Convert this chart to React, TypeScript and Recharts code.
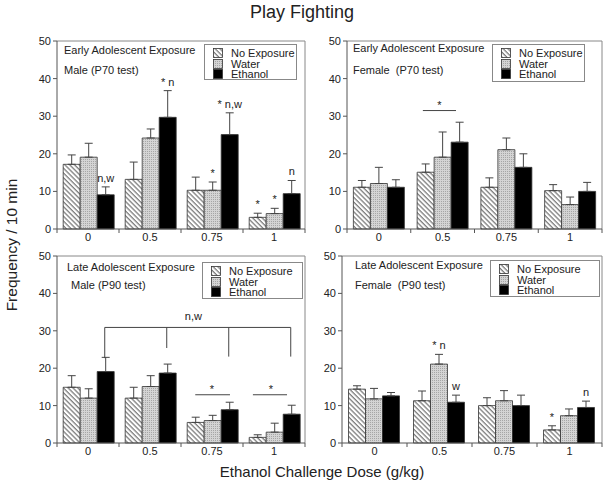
import React from 'react'
import { BarChart, Bar, XAxis, YAxis, ErrorBar, LabelList, Legend, ReferenceLine, ReferenceDot } from 'recharts'

const FONT = '"Liberation Sans", Arial, Helvetica, sans-serif'
const INK = '#222'

const doses = ['0', '0.5', '0.75', '1']
const doseSlots = [0.5, 1.5, 2.5, 3.5] // category centres on the helper numeric axis
const seriesNames = ['No Exposure', 'Water', 'Ethanol']
const yTicks = [0, 10, 20, 30, 40, 50]

// Early adolescent exposure, male (P70 test)
const earlyMaleNone = [17.2, 13.2, 10.3, 3.1]
const earlyMaleNoneErr = [2.5, 4.6, 3.5, 1.1]
const earlyMaleWater = [19.1, 24.2, 10.3, 4.1]
const earlyMaleWaterErr = [3.7, 2.4, 2.2, 1.4]
const earlyMaleEthanol = [9.1, 29.7, 25.1, 9.4]
const earlyMaleEthanolErr = [2.1, 7.1, 5.8, 3.5]
const earlyMaleNoneSig = ['', '', '', '*']
const earlyMaleWaterSig = ['', '', '*', '*']
const earlyMaleEthanolSig = ['n,w', '* n', '* n,w', 'n']

// Early adolescent exposure, female (P70 test)
const earlyFemaleNone = [11.1, 15.1, 11.1, 10.2]
const earlyFemaleNoneErr = [1.8, 2.2, 2.5, 1.6]
const earlyFemaleWater = [12.1, 19.1, 21.1, 6.5]
const earlyFemaleWaterErr = [4.3, 6.7, 3.1, 2.0]
const earlyFemaleEthanol = [11.1, 23.1, 16.4, 10]
const earlyFemaleEthanolErr = [2.0, 5.3, 3.6, 2.4]
const earlyFemaleStarSpan = [1.19, 1.71]
const earlyFemaleStarLineY = 31.5
const earlyFemaleStarX = 1.45
const earlyFemaleStarY = 31.9

// Late adolescent exposure, male (P90 test)
const lateMaleNone = [14.9, 12, 5.5, 1.5]
const lateMaleNoneErr = [3.1, 2.9, 1.4, 0.7]
const lateMaleWater = [12, 15.1, 6, 2.9]
const lateMaleWaterErr = [2.5, 2.9, 1.4, 2.4]
const lateMaleEthanol = [19.1, 18.7, 8.9, 7.7]
const lateMaleEthanolErr = [3.8, 2.4, 2.0, 2.4]
const lateMaleBracketX = [0.77, 1.77, 2.77, 3.77]
const lateMaleBracketEnds = [22.7, 25.4, 23.1, 23.1]
const lateMaleBracketY = 30.9
const lateMaleBracketNote = { x: 2.2, y: 33, text: 'n,w' }
const lateMaleStarSpans = [[2.23, 2.79], [3.16, 3.71]]
const lateMaleStarLineY = 12.9
const lateMaleStarX = [2.5, 3.45]
const lateMaleStarY = 13.4

// Late adolescent exposure, female (P90 test)
const lateFemaleNone = [14.4, 11.3, 10, 3.5]
const lateFemaleNoneErr = [0.9, 2.6, 2.1, 1.1]
const lateFemaleWater = [11.8, 21.1, 11.3, 7.3]
const lateFemaleWaterErr = [2.8, 2.6, 2.7, 1.8]
const lateFemaleEthanol = [12.6, 10.9, 10, 9.5]
const lateFemaleEthanolErr = [0.9, 1.9, 2.8, 1.7]
const lateFemaleNoneSig = ['', '', '', '*']
const lateFemaleWaterSig = ['', '* n', '', '']
const lateFemaleEthanolSig = ['', 'w', '', 'n']

const noSig = ['', '', '', '']

function buildRows(values: number[][], errors: number[][]) {
  return doses.map((dose, i) => ({
    dose,
    slot: doseSlots[i],
    none: values[0][i],
    noneErr: [0, errors[0][i]],
    water: values[1][i],
    waterErr: [0, errors[1][i]],
    ethanol: values[2][i],
    ethanolErr: [0, errors[2][i]],
  }))
}

// significance marks sit just above the error bar
const sigLabel = (sigs: string[], vals: number[], errs: number[]) => (props: any) => {
  const i = props.index
  const text = sigs[i]
  if (!text) return null
  const vb = props.viewBox ?? props
  const perUnit = Math.abs(vb.height) / vals[i]
  const top = Math.min(vb.y, vb.y + vb.height) - errs[i] * perUnit
  return (
    <text
      x={vb.x + vb.width / 2}
      y={top - 5}
      textAnchor="middle"
      fontSize={11}
      fill={INK}
      stroke="none"
      style={{ fill: INK, stroke: 'none' }}
      fontFamily={FONT}
    >
      {text}
    </text>
  )
}

const noteShape = (text: string) => (p: any) => (
  <text x={p.cx} y={p.cy} textAnchor="middle" fontSize={11} fill={INK} stroke="none" fontFamily={FONT}>
    {text}
  </text>
)

const DoseTick = (props: any) => {
  const { x, y, payload, index, half } = props
  const h = payload?.offset || half
  return (
    <g>
      <line x1={x + h} x2={x + h} y1={y - 4} y2={y} stroke="#555" />
      {index === 0 && <line x1={x - h} x2={x - h} y1={y - 4} y2={y} stroke="#555" />}
      <text x={x} y={y} dy="0.75em" textAnchor="middle" fontSize={11} fill={INK} fontFamily={FONT}>
        {payload.value}
      </text>
    </g>
  )
}

const legendContent = (props: any) => {
  const items = [...(props.payload ?? [])].sort(
    (a: any, b: any) => seriesNames.indexOf(a.value) - seriesNames.indexOf(b.value)
  )
  return (
    <div
      style={{
        border: '1px solid #888',
        background: '#fff',
        width: '100%',
        height: '100%',
        boxSizing: 'border-box',
        padding: '3px 0 0 8px',
        fontFamily: FONT,
      }}
    >
      {items.map((entry: any) => (
        <div key={entry.value} style={{ display: 'flex', alignItems: 'center', height: 10.5, fontSize: 11, lineHeight: '10.5px', color: INK }}>
          <svg width={10} height={10} style={{ marginRight: 8 }}>
            <rect x={0.5} y={0.5} width={9} height={9} fill={entry.color} stroke="#333" strokeWidth={0.8} />
          </svg>
          <span>{entry.value}</span>
        </div>
      ))}
    </div>
  )
}

type Box = { x: number; y: number; w: number; h: number }

interface PanelProps {
  id: string
  plot: Box
  line1: string
  line2: string
  text1: [number, number]
  text2: [number, number]
  legendBox: Box
  values: number[][]
  errors: number[][]
  sigs: string[][]
  extras?: React.ReactNode[]
}

function Panel({ id, plot, line1, line2, text1, text2, legendBox, values, errors, sigs, extras }: PanelProps) {
  const rows = buildRows(values, errors)
  const padL = 36
  const padT = 10
  const hatch = `hatch-${id}`
  const stipple = `stipple-${id}`
  const fills = [`url(#${hatch})`, `url(#${stipple})`, '#000']
  const keys = ['none', 'water', 'ethanol']
  const textStyle: React.CSSProperties = { position: 'absolute', fontSize: 11, lineHeight: '13px', whiteSpace: 'pre', color: INK }

  return (
    <div style={{ position: 'absolute', left: plot.x - padL, top: plot.y - padT }}>
      <BarChart
        width={plot.w + padL + 6}
        height={plot.h + padT + 24}
        data={rows}
        margin={{ top: padT, right: 6, bottom: 0, left: padL - 34 }}
        barCategoryGap="10%"
        barGap={0}
      >
        <defs>
          <pattern id={hatch} width={3.4} height={3.4} patternUnits="userSpaceOnUse" patternTransform="rotate(-45)">
            <rect width={3.4} height={3.4} fill="#fff" />
            <line x1={1} y1={0} x2={1} y2={3.4} stroke="#555" strokeWidth={1} />
          </pattern>
          <pattern id={stipple} width={2} height={2} patternUnits="userSpaceOnUse">
            <rect width={2} height={2} fill="#d4d4d4" />
            <rect width={1} height={1} fill="#a6a6a6" />
          </pattern>
        </defs>
        <XAxis
          dataKey="dose"
          height={24}
          axisLine={{ stroke: '#555' }}
          tickLine={false}
          tickSize={4}
          tickMargin={0}
          interval={0}
          tick={<DoseTick half={plot.w / doses.length / 2} />}
        />
        <XAxis xAxisId="n" dataKey="slot" type="number" domain={[0, 4]} allowDataOverflow hide />
        <YAxis
          width={34}
          domain={[0, 50]}
          ticks={yTicks}
          interval={0}
          axisLine={{ stroke: '#555' }}
          tickLine={{ stroke: '#555' }}
          tickSize={4}
          tickMargin={2}
          tick={{ fontSize: 11, fill: INK, fontFamily: FONT }}
        />
        <ReferenceLine y={50} stroke="#888" />
        <ReferenceLine xAxisId="n" x={4} stroke="#888" />
        {keys.map((k, s) => (
          <Bar
            key={k}
            dataKey={k}
            name={seriesNames[s]}
            fill={fills[s]}
            stroke="#333"
            strokeWidth={0.8}
            isAnimationActive={false}
          >
            <ErrorBar dataKey={`${k}Err`} width={4} stroke="#444" strokeWidth={1} direction="y" />
            <LabelList dataKey={k} content={sigLabel(sigs[s], values[s], errors[s])} />
          </Bar>
        ))}
        {extras}
        <Legend
          layout="horizontal"
          verticalAlign="middle"
          align="center"
          content={legendContent}
          wrapperStyle={{ left: padL + legendBox.x, top: padT + legendBox.y, width: legendBox.w, height: legendBox.h }}
        />
      </BarChart>
      <div style={{ ...textStyle, left: padL + text1[0], top: padT + text1[1] - 6.5 }}>{line1}</div>
      <div style={{ ...textStyle, left: padL + text2[0], top: padT + text2[1] - 6.5 }}>{line2}</div>
    </div>
  )
}

const earlyFemaleExtras = [
  <ReferenceLine
    key="l"
    xAxisId="n"
    segment={[{ x: earlyFemaleStarSpan[0], y: earlyFemaleStarLineY }, { x: earlyFemaleStarSpan[1], y: earlyFemaleStarLineY }]}
    stroke="#444"
  />,
  <ReferenceDot key="s" xAxisId="n" x={earlyFemaleStarX} y={earlyFemaleStarY} r={1} shape={noteShape('*')} />,
]

const lateMaleExtras = [
  <ReferenceLine
    key="bh"
    xAxisId="n"
    segment={[{ x: lateMaleBracketX[0], y: lateMaleBracketY }, { x: lateMaleBracketX[3], y: lateMaleBracketY }]}
    stroke="#444"
  />,
  ...lateMaleBracketX.map((bx, i) => (
    <ReferenceLine
      key={`bv${i}`}
      xAxisId="n"
      segment={[{ x: bx, y: lateMaleBracketY }, { x: bx, y: lateMaleBracketEnds[i] }]}
      stroke="#444"
    />
  )),
  <ReferenceDot key="bn" xAxisId="n" x={lateMaleBracketNote.x} y={lateMaleBracketNote.y} r={1} shape={noteShape(lateMaleBracketNote.text)} />,
  ...lateMaleStarSpans.map((span, i) => (
    <ReferenceLine
      key={`sl${i}`}
      xAxisId="n"
      segment={[{ x: span[0], y: lateMaleStarLineY }, { x: span[1], y: lateMaleStarLineY }]}
      stroke="#444"
    />
  )),
  ...lateMaleStarX.map((sx, i) => (
    <ReferenceDot key={`ss${i}`} xAxisId="n" x={sx} y={lateMaleStarY} r={1} shape={noteShape('*')} />
  )),
]

export default function App() {
  return (
    <div
      style={{
        position: 'absolute',
        left: 0,
        top: 0,
        width: 604,
        height: 487,
        overflow: 'hidden',
        background: '#fff',
        fontFamily: FONT,
        color: INK,
      }}
    >
      <div style={{ position: 'absolute', left: 0, top: 2, width: 604, textAlign: 'center', fontSize: 18 }}>Play Fighting</div>
      <div
        style={{
          position: 'absolute',
          left: 12,
          top: 245,
          transform: 'translate(-50%, -50%) rotate(-90deg)',
          whiteSpace: 'nowrap',
          fontSize: 15.5,
        }}
      >
        Frequency / 10 min
      </div>
      <div style={{ position: 'absolute', left: 172, top: 463, width: 300, textAlign: 'center', fontSize: 15 }}>
        Ethanol Challenge Dose (g/kg)
      </div>

      <Panel
        id="p1"
        plot={{ x: 57, y: 40.5, w: 248, h: 188 }}
        line1="Early Adolescent Exposure"
        line2="Male (P70 test)"
        text1={[7, 9.5]}
        text2={[7, 29.5]}
        legendBox={{ x: 147, y: 3.5, w: 93, h: 36 }}
        values={[earlyMaleNone, earlyMaleWater, earlyMaleEthanol]}
        errors={[earlyMaleNoneErr, earlyMaleWaterErr, earlyMaleEthanolErr]}
        sigs={[earlyMaleNoneSig, earlyMaleWaterSig, earlyMaleEthanolSig]}
      />
      <Panel
        id="p2"
        plot={{ x: 347, y: 40.5, w: 255, h: 188 }}
        line1="Early Adolescent Exposure"
        line2="Female  (P70 test)"
        text1={[6, 7.5]}
        text2={[6, 29.5]}
        legendBox={{ x: 145, y: 3.5, w: 93, h: 38 }}
        values={[earlyFemaleNone, earlyFemaleWater, earlyFemaleEthanol]}
        errors={[earlyFemaleNoneErr, earlyFemaleWaterErr, earlyFemaleEthanolErr]}
        sigs={[noSig, noSig, noSig]}
        extras={earlyFemaleExtras}
      />
      <Panel
        id="p3"
        plot={{ x: 57, y: 256, w: 248, h: 187 }}
        line1="Late Adolescent Exposure"
        line2="Male (P90 test)"
        text1={[10, 11]}
        text2={[14, 29]}
        legendBox={{ x: 145, y: 6, w: 101, h: 37 }}
        values={[lateMaleNone, lateMaleWater, lateMaleEthanol]}
        errors={[lateMaleNoneErr, lateMaleWaterErr, lateMaleEthanolErr]}
        sigs={[noSig, noSig, noSig]}
        extras={lateMaleExtras}
      />
      <Panel
        id="p4"
        plot={{ x: 342, y: 256, w: 260, h: 187 }}
        line1="Late Adolescent Exposure"
        line2="Female  (P90 test)"
        text1={[13, 9]}
        text2={[13, 29]}
        legendBox={{ x: 148, y: 4, w: 110, h: 37 }}
        values={[lateFemaleNone, lateFemaleWater, lateFemaleEthanol]}
        errors={[lateFemaleNoneErr, lateFemaleWaterErr, lateFemaleEthanolErr]}
        sigs={[lateFemaleNoneSig, lateFemaleWaterSig, lateFemaleEthanolSig]}
      />
    </div>
  )
}
